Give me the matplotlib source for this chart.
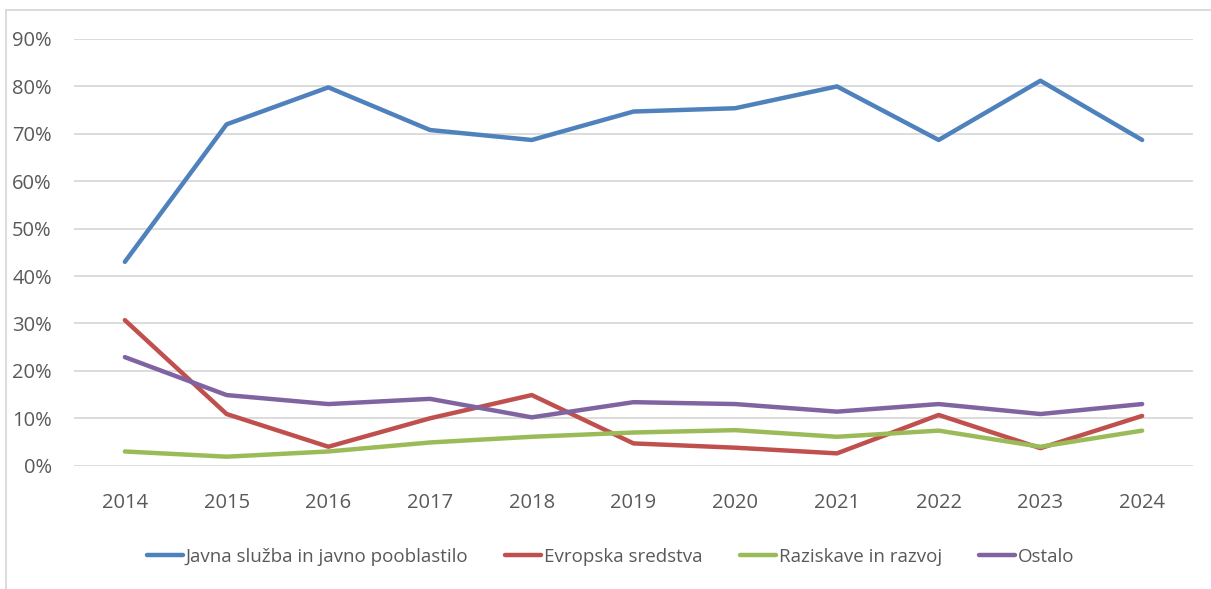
import matplotlib
matplotlib.use("Agg")
import matplotlib.pyplot as plt
from matplotlib.lines import Line2D
from matplotlib.ticker import FuncFormatter, MultipleLocator

years = ["2014", "2015", "2016", "2017", "2018", "2019", "2020", "2021", "2022", "2023", "2024"]
javna = [43.0, 72.0, 79.8, 70.8, 68.7, 74.7, 75.4, 80.0, 68.7, 81.2, 68.7]
evropska = [30.7, 10.9, 4.0, 10.0, 14.9, 4.7, 3.8, 2.6, 10.7, 3.7, 10.5]
raziskave = [3.0, 1.9, 3.0, 4.9, 6.1, 7.0, 7.5, 6.1, 7.4, 4.0, 7.4]
ostalo = [22.9, 14.9, 13.0, 14.1, 10.2, 13.4, 13.0, 11.4, 13.0, 10.9, 13.0]

series = [
    ("Javna služba in javno pooblastilo", javna, "#4F81BD"),
    ("Evropska sredstva", evropska, "#C0504D"),
    ("Raziskave in razvoj", raziskave, "#9BBB59"),
    ("Ostalo", ostalo, "#8064A2"),
]

plt.rcParams["font.family"] = ["Open Sans", "DejaVu Sans"]

W, H = 1211, 589
fig = plt.figure(figsize=(W / 100, H / 100), dpi=100)
ax = fig.add_axes([74 / W, 1 - 465.7 / H, (1193 - 74) / W, (465.7 - 39) / H])

x = list(range(len(years)))
for name, vals, col in series:
    ax.plot(x, vals, color=col, lw=3.2, label=name, solid_capstyle="round", solid_joinstyle="round", zorder=3)

ax.set_xlim(-0.5, len(years) - 0.5)
ax.set_ylim(0, 90)
ax.yaxis.set_major_locator(MultipleLocator(10))
ax.yaxis.set_major_formatter(FuncFormatter(lambda v, p: f"{int(round(v))}%"))
ax.set_xticks(x)
ax.set_xticklabels(years)
ax.grid(axis="y", color="#D9D9D9", lw=1.3, zorder=0)
for s in ax.spines.values():
    s.set_visible(False)
ax.tick_params(axis="both", length=0, colors="#595959", labelsize=14.5)
ax.tick_params(axis="y", pad=16)
ax.tick_params(axis="x", pad=20)

leg = fig.legend(loc="center", bbox_to_anchor=(610.5 / W, 1 - 557 / H), ncol=4, frameon=False,
                 fontsize=13.5, handlelength=1.92, handletextpad=0.15, columnspacing=1.97)
for t in leg.get_texts():
    t.set_color("#595959")

# chart frame (top and left edges visible)
fig.add_artist(Line2D([6 / W, 1.0], [1 - 10 / H, 1 - 10 / H], color="#D9D9D9", lw=1.3, transform=fig.transFigure))
fig.add_artist(Line2D([6 / W, 6 / W], [0, 1 - 10 / H], color="#D9D9D9", lw=1.3, transform=fig.transFigure))

fig.savefig("out.png", dpi=100)
